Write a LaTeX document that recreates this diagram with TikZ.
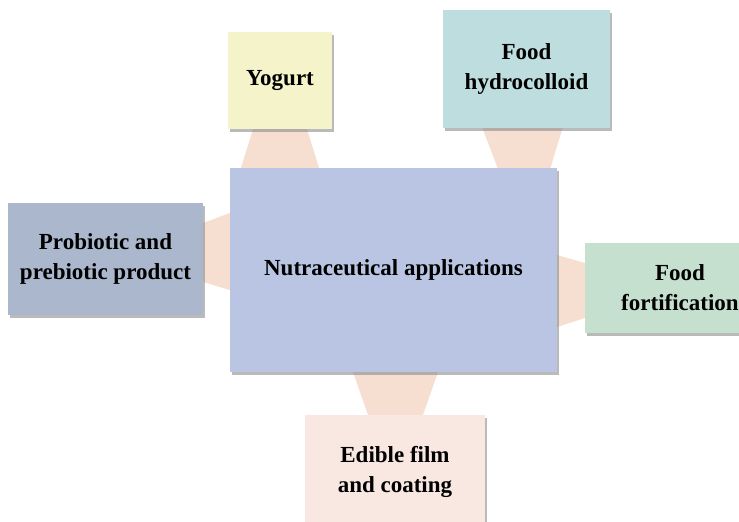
\documentclass[tikz,border=0pt]{standalone}
\usepackage{fontspec}
\setmainfont{Liberation Serif}
\usepackage{tikz}
\usepackage{xcolor}
\usetikzlibrary{calc, backgrounds, shadows}
\definecolor{nutraBlue}{RGB}{185,197,226}
\definecolor{yogurtYellow}{RGB}{245,243,202}
\definecolor{hydroTeal}{RGB}{189,221,222}
\definecolor{probioGrey}{RGB}{170,183,204}
\definecolor{fortGreen}{RGB}{198,224,207}
\definecolor{edibleRose}{RGB}{249,232,226}
\definecolor{linkPeach}{RGB}{246,222,208}

\tikzset{
  appbox/.style={inner sep=0pt, align=center,
    font=\fontsize{23}{30}\selectfont\bfseries,
    drop shadow={shadow xshift=2pt, shadow yshift=-2.5pt, fill=black!45, opacity=0.6}},
  link/.style={fill=linkPeach}
}

\begin{document}
\begin{tikzpicture}[x=1pt, y=-1pt]
    \clip (0,0) rectangle (739,522);

    \node[appbox, fill=nutraBlue, minimum width=327pt, minimum height=204pt]
      (nut) at (393.5,270) {Nutraceutical applications};
    \node[appbox, fill=yogurtYellow, minimum width=104pt, minimum height=97pt]
      (yog) at (280,80.5) {Yogurt};
    \node[appbox, fill=hydroTeal, minimum width=167pt, minimum height=118pt]
      (hyd) at (526.5,69) {Food\\hydrocolloid};
    \node[appbox, fill=probioGrey, minimum width=195pt, minimum height=112pt]
      (pro) at (105.5,259) {Probiotic and\\prebiotic product};
    \node[appbox, fill=fortGreen, minimum width=190pt, minimum height=90pt]
      (fort) at (680,288) {Food\\fortification};
    \node[appbox, fill=edibleRose, minimum width=180pt, minimum height=114pt]
      (edi) at (395,472) {Edible film\\and coating};

    % links behind the boxes
    \begin{scope}[on background layer]
      \fill[link] ($(yog.south)+(-27,0)$) -- ($(yog.south)+(27,0)$)
        -- ($(yog.south |- nut.north)+(39,0)$) -- ($(yog.south |- nut.north)+(-39,0)$) -- cycle;
      \fill[link] ($(hyd.south)+(-44,0)$) -- ($(hyd.south)+(36,0)$)
        -- ($(hyd.south |- nut.north)+(24,0)$) -- ($(hyd.south |- nut.north)+(-29,0)$) -- cycle;
      \fill[link] ($(pro.east)+(0,-36)$) -- ($(pro.east)+(0,23)$)
        -- ($(pro.east -| nut.west)+(0,31)$) -- ($(pro.east -| nut.west)+(0,-46)$) -- cycle;
      \fill[link] ($(fort.west)+(0,-25)$) -- ($(fort.west)+(0,30)$)
        -- ($(fort.west -| nut.east)+(0,39)$) -- ($(fort.west -| nut.east)+(0,-33)$) -- cycle;
      \fill[link] ($(edi.north)+(-27,0)$) -- ($(edi.north)+(28,0)$)
        -- ($(edi.north |- nut.south)+(43,0)$) -- ($(edi.north |- nut.south)+(-42,0)$) -- cycle;
    \end{scope}
\end{tikzpicture}
\end{document}
